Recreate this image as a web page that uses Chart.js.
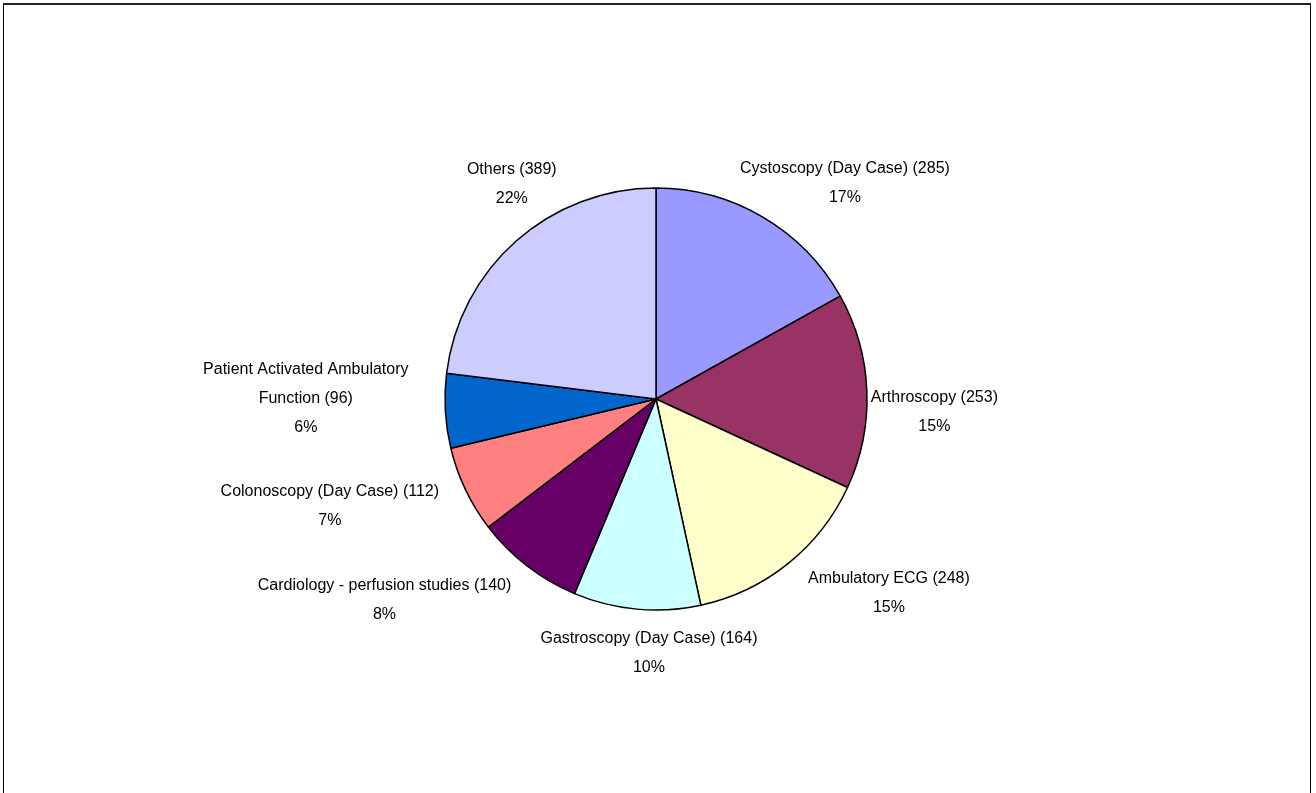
<!DOCTYPE html>
<html>
<head>
<meta charset="utf-8">
<script src="https://cdn.jsdelivr.net/npm/chart.js@4/dist/chart.umd.min.js"></script>
<style>
  html, body { margin: 0; padding: 0; background: #fff; }
  #wrap { position: relative; width: 1316px; height: 793px; overflow: hidden; }
  #frame { position: absolute; left: 3px; top: 3px; width: 1306px; height: 820px;
           border-top: 2px solid #222; border-left: 1px solid #000; border-right: 1px solid #000; }
  canvas { position: absolute; left: 0; top: 0; }
</style>
</head>
<body>
<div id="wrap">
  <div id="frame"></div>
  <canvas id="c" width="1316" height="793"></canvas>
</div>
<script>
const categories = [
  'Cystoscopy (Day Case)',
  'Arthroscopy',
  'Ambulatory ECG',
  'Gastroscopy (Day Case)',
  'Cardiology - perfusion studies',
  'Colonoscopy (Day Case)',
  'Patient Activated Ambulatory\nFunction',
  'Others'
];
const counts = [285, 253, 248, 164, 140, 112, 96, 389];
const percentLabels = ['17%', '15%', '15%', '10%', '8%', '7%', '6%', '22%'];
const colors = ['#9999FF', '#993366', '#FFFFCC', '#CCFFFF', '#660066', '#FF8080', '#0066CC', '#CCCCFF'];

// label layout tweaks (pixel nudges from the computed anchor)
const labelNudge = [[24, 0], [-6, 23], [44, -1], [23, 5], [-59, 3], [-28, 0], [-27, -15], [32, -28]];

const labelPlugin = {
  id: 'excelLabels',
  afterDraw(chart) {
    const ctx = chart.ctx;
    const meta = chart.getDatasetMeta(0);
    const lineH = 29, gap = 10;
    ctx.save();
    ctx.font = '16px "Liberation Sans", Arial, sans-serif';
    ctx.fillStyle = '#000';
    ctx.textAlign = 'center';
    ctx.textBaseline = 'middle';
    meta.data.forEach((arc, i) => {
      const p = arc.getProps(['x', 'y', 'startAngle', 'endAngle', 'outerRadius'], true);
      const mid = (p.startAngle + p.endAngle) / 2;
      const dx = Math.cos(mid), dy = Math.sin(mid);
      const lines = (categories[i] + ' (' + counts[i] + ')').split('\n');
      lines.push(percentLabels[i]);
      let w = 0;
      lines.forEach(l => { w = Math.max(w, ctx.measureText(l).width); });
      const h = lineH * lines.length;
      const cx = p.x + (p.outerRadius + gap) * dx + w / 2 * dx + labelNudge[i][0];
      const cy = p.y + (p.outerRadius + gap) * dy + h / 2 * dy + labelNudge[i][1];
      lines.forEach((l, k) => {
        const ly = cy + (k - (lines.length - 1) / 2) * lineH;
        ctx.fillText(l, cx, ly);
      });
    });
    ctx.restore();
  }
};

new Chart(document.getElementById('c'), {
  type: 'pie',
  data: {
    labels: categories,
    datasets: [{
      data: counts,
      backgroundColor: colors,
      borderColor: '#000',
      borderWidth: 1.5
    }]
  },
  options: {
    responsive: false,
    animation: false,
    radius: 211,
    layout: { padding: { top: 188, bottom: 183, left: 445, right: 449 } },
    plugins: { legend: { display: false }, tooltip: { enabled: false }, title: { display: false } }
  },
  plugins: [labelPlugin]
});
</script>
</body>
</html>
